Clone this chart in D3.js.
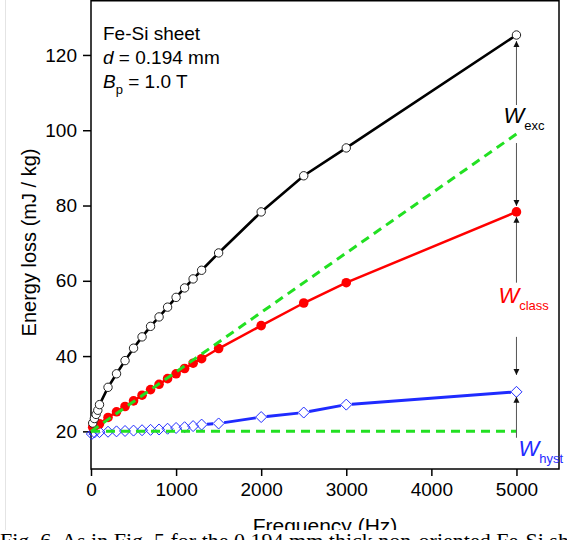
<!DOCTYPE html>
<html>
<head>
<meta charset="utf-8">
<script src="https://cdn.jsdelivr.net/npm/d3@7/dist/d3.min.js"></script>
<style>
  html, body { margin: 0; padding: 0; background: #fff; }
  svg { display: block; font-family: "Liberation Sans", Arial, sans-serif; }
</style>
</head>
<body>
<svg id="chart" width="567" height="540"></svg>
<script>
// ---------------- data ----------------
const totalFreq = [20, 40, 60, 80, 100, 200, 300, 400, 500, 600, 700, 800, 900, 1000, 1100, 1200, 1300, 1500, 2000, 2500, 3000, 5000];
const totalLoss = [22.2, 23.4, 24.5, 25.6, 27.1, 31.7, 35.3, 38.8, 42.1, 45.1, 47.9, 50.4, 53.0, 55.6, 58.1, 60.5, 62.8, 67.4, 78.3, 87.9, 95.3, 125.3];

const classFreq = [20, 50, 100, 200, 300, 400, 500, 600, 700, 800, 900, 1000, 1100, 1200, 1300, 1500, 2000, 2500, 3000, 5000];
const classLoss = [21.1, 21.5, 22.0, 23.7, 25.2, 26.6, 28.1, 29.6, 31.1, 32.5, 34.0, 35.3, 36.7, 38.1, 39.3, 42.0, 48.1, 54.1, 59.5, 78.3];

const hystFreq = [10, 40, 100, 200, 300, 400, 500, 600, 700, 800, 900, 1000, 1100, 1200, 1300, 1500, 2000, 2500, 3000, 5000];
const hystLoss = [19.3, 19.7, 19.8, 19.9, 20.0, 20.1, 20.2, 20.3, 20.4, 20.5, 20.7, 20.9, 21.1, 21.4, 21.8, 22.1, 23.8, 25.0, 27.1, 30.5];

const classLineFreq = [0, 5000];
const classLineLoss = [20, 99];
const hystLineFreq = [0, 5000];
const hystLineLoss = [20, 20];

const xMajorTicks = [0, 1000, 2000, 3000, 4000, 5000];
const yMajorTicks = [20, 40, 60, 80, 100, 120];

// annotation arrows at f = 5000 (from -> to, in mJ/kg)
const arrowFrom = [106.7, 96.6, 59.5, 45.1, 18.3];
const arrowTo   = [123.7, 79.9, 77.0, 35.0, 29.2];

// ---------------- layout ----------------
const svg = d3.select("#chart");
const W = 567, H = 540;
const m = { left: 91, right: 8, top: 0, bottom: 71 };
const x = d3.scaleLinear().domain([0, 5500]).range([m.left, W - m.right]);
const y = d3.scaleLinear().domain([10, 134.6]).range([H - m.bottom, m.top]);

const GREEN = "#22e022", RED = "#ff0000", BLUE = "#1f2bff";

// faint scan line at far left
svg.append("line").attr("x1", 5.5).attr("x2", 5.5).attr("y1", 0).attr("y2", 530)
  .attr("stroke", "#e4e4e4").attr("stroke-width", 1);

// arrow marker
const defs = svg.append("defs");
defs.append("marker").attr("id", "arr").attr("viewBox", "0 0 10 10")
  .attr("refX", 10).attr("refY", 5).attr("markerWidth", 6).attr("markerHeight", 7)
  .attr("markerUnits", "userSpaceOnUse").attr("orient", "auto")
  .append("path").attr("d", "M0,0 L10,5 L0,10 z").attr("fill", "#111");

// ---------------- axes ----------------
const xMinor = d3.range(0, 5401, 200);
const yMinor = d3.range(10, 131, 5);

const gx = svg.append("g").attr("transform", `translate(0,${y(10)})`);
gx.call(d3.axisBottom(x).tickValues(xMinor).tickSize(4).tickFormat(""));
gx.call(d3.axisBottom(x).tickValues(xMajorTicks).tickSize(7).tickPadding(7).tickFormat(d3.format("d")));
gx.selectAll("path.domain").remove();

const gy = svg.append("g").attr("transform", `translate(${x(0)},0)`);
gy.call(d3.axisLeft(y).tickValues(yMinor).tickSize(5).tickFormat(""));
gy.call(d3.axisLeft(y).tickValues(yMajorTicks).tickSize(8).tickPadding(6).tickFormat(d3.format("d")));
gy.selectAll("path.domain").remove();

svg.selectAll(".tick line").attr("stroke", "#000").attr("stroke-width", 1.5);
svg.selectAll(".tick text").attr("font-size", 19).attr("fill", "#000")
  .attr("font-family", "'Liberation Sans', Arial, sans-serif");

// frame
svg.append("rect").attr("x", x(0)).attr("y", 0.75)
  .attr("width", x(5500) - x(0)).attr("height", y(10) - 0.75)
  .attr("fill", "none").attr("stroke", "#000").attr("stroke-width", 1.5);

// ---------------- series ----------------
const line = d3.line().x(d => x(d[0])).y(d => y(d[1]));
const zip = (a, b) => a.map((v, i) => [v, b[i]]);

const hystPts = zip(hystFreq, hystLoss);
const classPts = zip(classFreq, classLoss);
const totalPts = zip(totalFreq, totalLoss);

// blue: segments with gaps at hollow diamonds
const dR = 5.5;
const gB = svg.append("g");
for (let i = 0; i < hystPts.length - 1; i++) {
  const x1 = x(hystPts[i][0]), y1 = y(hystPts[i][1]);
  const x2 = x(hystPts[i + 1][0]), y2 = y(hystPts[i + 1][1]);
  const dist = Math.hypot(x2 - x1, y2 - y1);
  if (dist <= 2 * dR) continue;
  const ux = (x2 - x1) / dist, uy = (y2 - y1) / dist;
  gB.append("line").attr("x1", x1 + ux * dR).attr("y1", y1 + uy * dR)
    .attr("x2", x2 - ux * dR).attr("y2", y2 - uy * dR)
    .attr("stroke", BLUE).attr("stroke-width", 3);
}
gB.append("line").attr("x1", x(0)).attr("x2", x(hystFreq[0]) - 3)
  .attr("y1", y(19.2)).attr("y2", y(hystLoss[0])).attr("stroke", BLUE).attr("stroke-width", 1.5);
gB.selectAll("path.dia").data(hystPts).join("path")
  .attr("d", d => { const cx = x(d[0]), cy = y(d[1]);
    return `M${cx},${cy - dR} L${cx + dR},${cy} L${cx},${cy + dR} L${cx - dR},${cy} Z`; })
  .attr("fill", "none").attr("stroke", BLUE).attr("stroke-width", 1);

// red
svg.append("path").datum(classPts).attr("d", line)
  .attr("fill", "none").attr("stroke", RED).attr("stroke-width", 2.5);
svg.append("g").selectAll("circle").data(classPts).join("circle")
  .attr("cx", d => x(d[0])).attr("cy", d => y(d[1])).attr("r", 4.8).attr("fill", RED);

// black
svg.append("path").datum(totalPts).attr("d", line)
  .attr("fill", "none").attr("stroke", "#000").attr("stroke-width", 2.6);
svg.append("g").selectAll("circle").data(totalPts).join("circle")
  .attr("cx", d => x(d[0])).attr("cy", d => y(d[1])).attr("r", 4.2)
  .attr("fill", "#fff").attr("stroke", "#222").attr("stroke-width", 1);

// green dashed
svg.append("path").datum(zip(classLineFreq, classLineLoss)).attr("d", line)
  .attr("fill", "none").attr("stroke", GREEN).attr("stroke-width", 3).attr("stroke-dasharray", "9,6");
svg.append("path").datum(zip(hystLineFreq, hystLineLoss)).attr("d", line)
  .attr("fill", "none").attr("stroke", GREEN).attr("stroke-width", 3).attr("stroke-dasharray", "9,6");

// arrows
arrowFrom.forEach((f, i) => {
  svg.append("line").attr("x1", x(5000)).attr("x2", x(5000))
    .attr("y1", y(f)).attr("y2", y(arrowTo[i]))
    .attr("stroke", "#555").attr("stroke-width", 1).attr("marker-end", "url(#arr)");
});

// W labels
function wLabel(px, py, sub, color) {
  const t = svg.append("text").attr("x", px).attr("y", py).attr("fill", color);
  t.append("tspan").text("W").attr("font-style", "italic").attr("font-size", 22);
  t.append("tspan").text(sub).attr("font-size", 13).attr("dy", 7);
}
wLabel(x(5000) - 13, y(101.8), "exc", "#000");
wLabel(x(5000) - 18, y(54.0), "class", RED);
wLabel(x(5000) + 2, y(13.4), "hyst", BLUE);

// info text
const info = svg.append("g").attr("font-size", 19).attr("fill", "#000");
info.append("text").attr("x", 103).attr("y", 40).text("Fe-Si sheet");
const t2 = info.append("text").attr("x", 103).attr("y", 64);
t2.append("tspan").attr("font-style", "italic").text("d");
t2.append("tspan").text(" = 0.194 mm");
const t3 = info.append("text").attr("x", 103).attr("y", 88);
t3.append("tspan").attr("font-style", "italic").text("B");
t3.append("tspan").attr("font-size", 13).attr("dy", 6).text("p");
t3.append("tspan").attr("dy", -6).text(" = 1.0 T");

// axis titles
svg.append("text").attr("transform", `translate(36,${(y(10) + y(134.6)) / 2 + 8}) rotate(-90)`)
  .attr("text-anchor", "middle").attr("font-size", 20).text("Energy loss (mJ / kg)");
svg.append("text").attr("x", (x(0) + x(5500)) / 2).attr("y", 533)
  .attr("text-anchor", "middle").attr("font-size", 21).text("Frequency (Hz)");

// caption strip (cut at page bottom)
svg.append("rect").attr("x", 0).attr("y", 530).attr("width", W).attr("height", 10).attr("fill", "#fff");
svg.append("text").attr("x", 0).attr("y", 548)
  .attr("font-family", "'Liberation Serif', 'Times New Roman', serif").attr("font-size", 22)
  .text("Fig. 6. As in Fig. 5 for the 0.194 mm thick non-oriented Fe-Si sheet.");
</script>
</body>
</html>
